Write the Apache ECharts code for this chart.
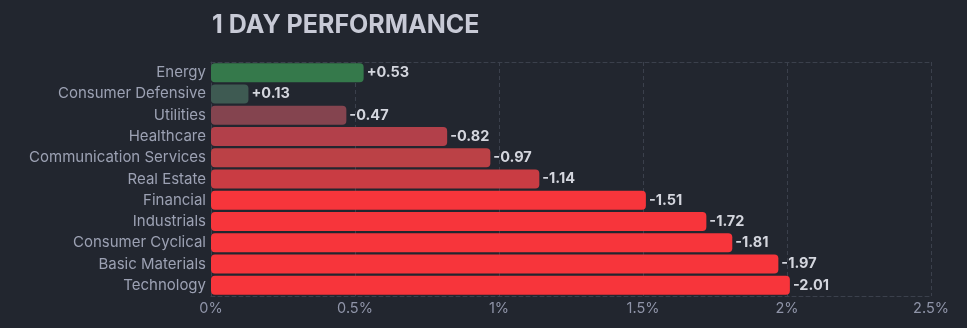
<!DOCTYPE html>
<html>
<head>
<meta charset="utf-8">
<script src="https://cdn.jsdelivr.net/npm/echarts@6/dist/echarts.min.js"></script>
<style>
  html, body { margin: 0; padding: 0; background: #22262f; }
  #chart { width: 967px; height: 328px; }
</style>
</head>
<body>
<div id="chart"></div>
<script>
// Sector one-day performance (percent change)
const sectors = [
  'Energy', 'Consumer Defensive', 'Utilities', 'Healthcare',
  'Communication Services', 'Real Estate', 'Financial', 'Industrials',
  'Consumer Cyclical', 'Basic Materials', 'Technology'
];
const changes = [0.53, 0.13, -0.47, -0.82, -0.97, -1.14, -1.51, -1.72, -1.81, -1.97, -2.01];
const barColors = [
  '#35794b', '#3e5a52', '#84444f', '#b2404a', '#bb4146', '#c93c43',
  '#f7353b', '#f7353b', '#f7353b', '#f7353b', '#f7353b'
];
const axisTicks = [0, 0.5, 1, 1.5, 2, 2.5];

const fmt = v => (v > 0 ? '+' : '') + v.toFixed(2);

const chart = echarts.init(document.getElementById('chart'), null, { renderer: 'canvas' });

const dashed = { color: '#3b404c', type: [4, 3], width: 1 };

chart.setOption({
  backgroundColor: '#22262f',
  animation: false,
  title: {
    text: '1 DAY PERFORMANCE',
    left: 207,
    top: 8,
    textStyle: { color: '#c8cad6', fontSize: 25, fontWeight: 'bold', fontFamily: 'Inter' }
  },
  grid: { left: 211, right: 36, top: 62, bottom: 32, containLabel: false },
  xAxis: [{
    type: 'value',
    min: axisTicks[0],
    max: axisTicks[axisTicks.length - 1],
    interval: 0.5,
    axisLine: { show: true, lineStyle: dashed },
    axisTick: { show: false },
    splitLine: { show: true, lineStyle: dashed },
    axisLabel: {
      color: '#8f94a8', fontSize: 14.5, fontFamily: 'Inter', margin: 5,
      formatter: v => v + '%'
    }
  }, {
    type: 'value',
    position: 'top',
    min: axisTicks[0],
    max: axisTicks[axisTicks.length - 1],
    interval: 0.5,
    axisLine: { show: true, lineStyle: dashed },
    axisTick: { show: false },
    splitLine: { show: false },
    axisLabel: { show: false }
  }],
  yAxis: {
    type: 'category',
    data: sectors,
    inverse: true,
    axisLine: { show: true, lineStyle: dashed },
    axisTick: { show: false },
    axisLabel: { color: '#9ca1b3', fontSize: 15, fontFamily: 'Inter', margin: 5 }
  },
  series: [{
    type: 'bar',
    xAxisIndex: 0,
    barWidth: 19,
    data: changes.map((v, i) => ({
      value: Math.abs(v),
      itemStyle: { color: barColors[i], borderRadius: 4 }
    })),
    label: {
      show: true,
      position: 'right',
      distance: 3,
      color: '#d4d6de',
      fontSize: 14.5,
      fontWeight: 'bold',
      fontFamily: 'Inter',
      formatter: p => fmt(changes[p.dataIndex])
    }
  }]
});
</script>
</body>
</html>
